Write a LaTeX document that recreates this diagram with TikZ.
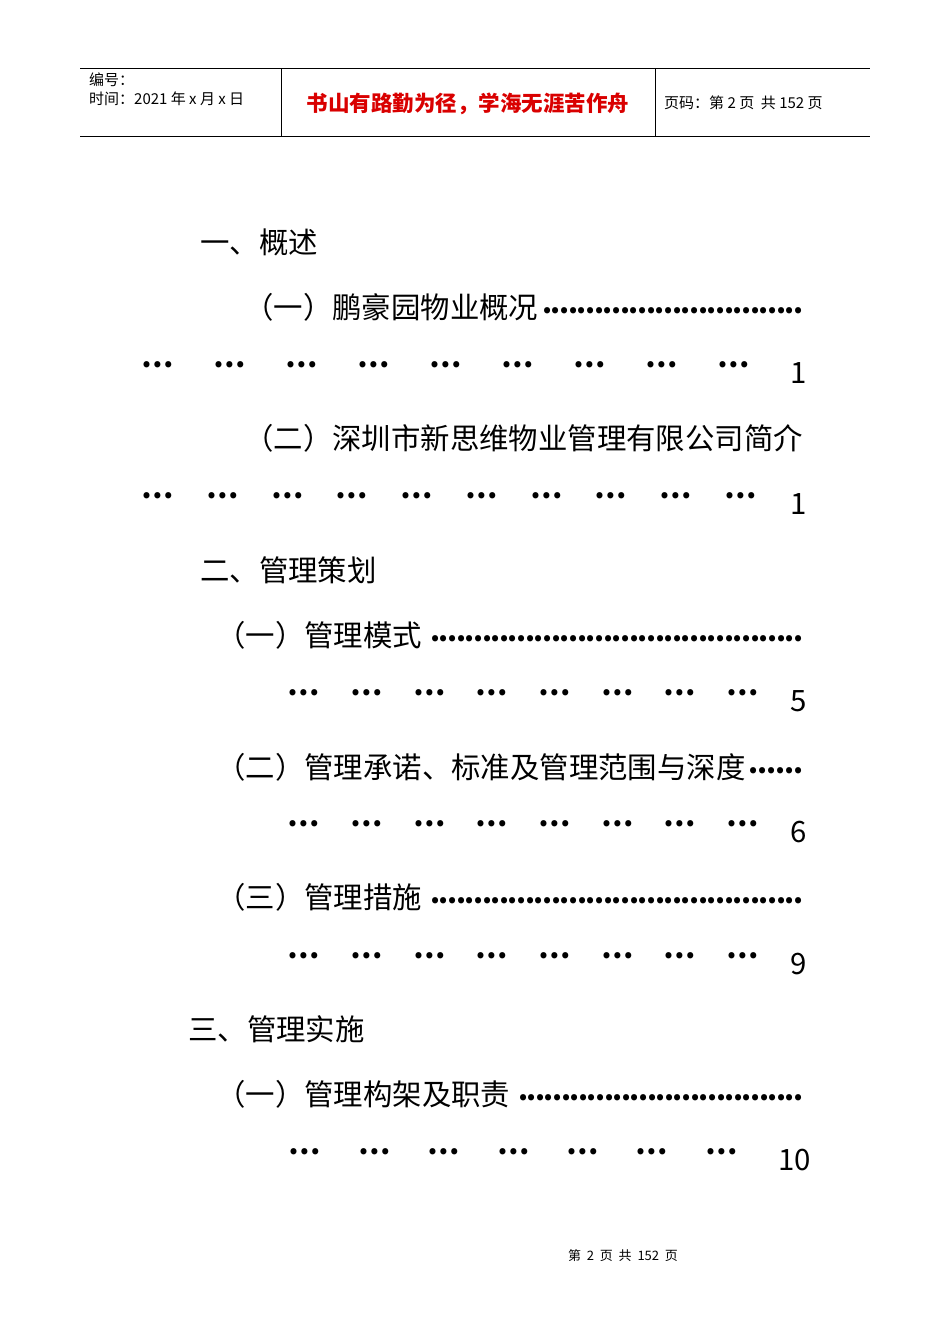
\documentclass[tikz,border=0pt]{standalone}
\usepackage{fontspec}
\setmainfont{Noto Sans CJK SC}
\newcommand{\dotrun}[1]{\hbox to #1pt{\xleaders\hbox to 8.6pt{\hss\textbf{.}\hss}\hfill}}
\begin{document}
\begin{tikzpicture}[x=1pt,y=-1pt,
  body/.style={inner sep=0pt,anchor=west,font=\fontsize{29.4}{31}\selectfont},
  dots/.style={inner sep=0pt,anchor=south east,font=\fontsize{28.7}{30}\selectfont},
  grp/.style={inner sep=0pt,font=\fontsize{28.7}{30}\selectfont\bfseries},
  hdr/.style={inner sep=0pt,anchor=west,font=\fontsize{15}{17}\selectfont}]
\useasboundingbox (0,0) rectangle (950,1344);
% header
\draw[line width=0.8pt] (80,68) -- (870,68);
\draw[line width=0.8pt] (80,136) -- (870,136);
\draw[line width=0.8pt] (281,68) -- (281,136);
\draw[line width=0.8pt] (655,68) -- (655,136);
\node[hdr] (h1) at (89,80) {编号：};
\node[hdr] (h2) at (89,99) {时间：2021 年 x 月 x 日};
\node[inner sep=0pt,text=red!85!black,font=\fontsize{21.5}{23}\selectfont\bfseries] (h3) at (468,104) {书山有路勤为径，学海无涯苦作舟};
\node[hdr] (h4) at (664,103) {页码：第 2 页\ \ 共 152 页};
% body
\node[body] (a) at (200,242) {一、概述};
\node[body] (a1) at (244,307) {（一）鹏豪园物业概况};
\node[dots] (d1) at (803,314) {\dotrun{260}};
\foreach \k in {0,...,8} \node[grp] (g1\k) at ({158+72*\k},365) {…};
\node[body] (n1) at (790,373) {1};
\node[body] (a2) at (244,438) {（二）深圳市新思维物业管理有限公司简介};
\foreach \c [count=\i] in {158,223,288,352,417,482,547,611,676,741} \node[grp] (g2\i) at (\c,496) {…};
\node[body] (n2) at (790,504) {1};
\node[body] (b) at (200,570) {二、管理策划};
\node[body] (b1) at (216,635) {（一）管理模式};
\node[dots] (d3) at (803,642) {\dotrun{372}};
\foreach \c [count=\i] in {304,367,430,492,555,618,680,743} \node[grp] (g3\i) at (\c,693) {…};
\node[body] (n3) at (790,701) {5};
\node[body] (b2) at (216,767) {（二）管理承诺、标准及管理范围与深度};
\node[dots] (d4) at (803,774) {\dotrun{54}};
\foreach \c [count=\i] in {304,367,430,492,555,618,680,743} \node[grp] (g4\i) at (\c,824) {…};
\node[body] (n4) at (790,832) {6};
\node[body] (b3) at (216,897) {（三）管理措施};
\node[dots] (d5) at (803,904) {\dotrun{372}};
\foreach \c [count=\i] in {304,367,430,492,555,618,680,743} \node[grp] (g5\i) at (\c,956) {…};
\node[body] (n5) at (790,964) {9};
\node[body] (c) at (188,1029) {三、管理实施};
\node[body] (c1) at (216,1094) {（一）管理构架及职责};
\node[dots] (d6) at (803,1101) {\dotrun{284}};
\foreach \c [count=\i] in {305,375,444,514,583,652,722} \node[grp] (g6\i) at (\c,1152) {…};
\node[body] (n6) at (778,1160) {10};
% footer
\node[inner sep=0pt,font=\fontsize{13}{15}\selectfont] (f) at (623,1256) {第\ \ 2\ \ 页\ \ 共\ \ 152\ \ 页};
\end{tikzpicture}
\end{document}
